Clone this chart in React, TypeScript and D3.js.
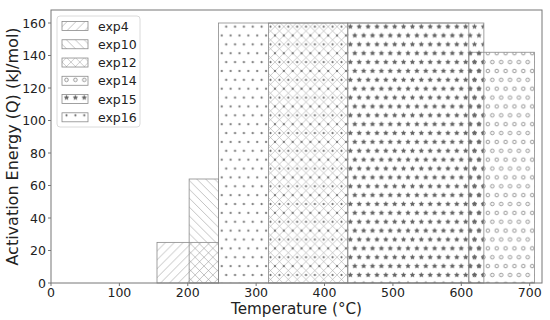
import React from 'react';
import * as d3 from 'd3';

const names = ['exp4', 'exp10', 'exp12', 'exp14', 'exp15', 'exp16'];
const tStart = [155, 202, 318, 611, 434, 245];
const tEnd = [245, 245, 434, 707, 633, 611];
const energy = [25, 64, 160, 142, 160, 160];
const xTicks = [0, 100, 200, 300, 400, 500, 600, 700];
const yTicks = [0, 20, 40, 60, 80, 100, 120, 140, 160];
const xLabel = 'Temperature (°C)';
const yLabel = 'Activation Energy (Q) (kJ/mol)';

const hatchOf: Record<string, string> = {
  exp4: 'slash', exp10: 'back', exp12: 'cross', exp14: 'ring', exp15: 'star', exp16: 'dot',
};

const W = 550, H = 320;
const M = { left: 51, right: 8, top: 10, bottom: 37 };
const D = 8.87;
const LC = '#9a9a9a';
const SC = '#646464';
const FONT = 'DejaVu Sans, sans-serif';

function starPath(cx: number, cy: number, r: number) {
  const pts: string[] = [];
  for (let i = 0; i < 10; i++) {
    const th = (Math.PI * 2 / 10) * i + Math.PI / 2;
    const rr = i % 2 === 0 ? r : r * 0.5;
    pts.push(`${(cx + rr * Math.cos(th)).toFixed(2)},${(cy - rr * Math.sin(th)).toFixed(2)}`);
  }
  return 'M' + pts.join('L') + 'Z';
}

const gridPts: [number, number][] = [[0, 0], [D, 0], [0, 2 * D], [D, 2 * D], [D / 2, D]];

function Patterns() {
  const slash = `M0,${D} L${D},0 M${-D / 2},${D / 2} L${D / 2},${-D / 2} M${D / 2},${1.5 * D} L${1.5 * D},${D / 2}`;
  const back = `M0,0 L${D},${D} M${-D / 2},${D / 2} L${D / 2},${1.5 * D} M${D / 2},${-D / 2} L${1.5 * D},${D / 2}`;
  return (
    <defs>
      <pattern id="h-slash" patternUnits="userSpaceOnUse" width={D} height={D}>
        <path d={slash} stroke={LC} strokeWidth={0.6} fill="none" />
      </pattern>
      <pattern id="h-back" patternUnits="userSpaceOnUse" width={D} height={D}>
        <path d={back} stroke={LC} strokeWidth={0.6} fill="none" />
      </pattern>
      <pattern id="h-cross" patternUnits="userSpaceOnUse" width={D} height={D}>
        <path d={slash + ' ' + back} stroke={LC} strokeWidth={0.5} fill="none" />
      </pattern>
      <pattern id="h-dot" patternUnits="userSpaceOnUse" width={D} height={2 * D}>
        {gridPts.map(([x, y], i) => (
          <circle key={i} cx={x} cy={y} r={0.9} fill={SC} stroke={SC} strokeWidth={0.3} />
        ))}
      </pattern>
      <pattern id="h-ring" patternUnits="userSpaceOnUse" width={D} height={2 * D}>
        {gridPts.map(([x, y], i) => (
          <circle key={i} cx={x} cy={y} r={1.8} fill="none" stroke="#808080" strokeWidth={0.8} />
        ))}
      </pattern>
      <pattern id="h-star" patternUnits="userSpaceOnUse" width={D} height={2 * D}>
        {gridPts.map(([x, y], i) => (
          <path key={i} d={starPath(x, y, 2.7)} fill={SC} stroke={SC} strokeWidth={0.2} />
        ))}
      </pattern>
    </defs>
  );
}

export default function App() {
  const x = d3.scaleLinear().domain([0, 718]).range([M.left, W - M.right]);
  const y = d3.scaleLinear().domain([0, 168]).range([H - M.bottom, M.top]);
  const x0 = x.range()[0], x1 = x.range()[1];
  const y0 = y.range()[0], y1 = y.range()[1];

  const legendX = 57, legendY = 16, legendW = 83, legendH = 111;
  const rowY = (i: number) => 26 + i * 18.26;

  return (
    <svg width={W} height={H} style={{ position: 'absolute', left: 0, top: 0, background: '#fff' }}
      fontFamily={FONT}>
      <Patterns />
      <rect x={0} y={0} width={W} height={H} fill="#fff" />
      {names.map((n, i) => (
        <rect key={n} x={x(tStart[i])} y={y(energy[i])} width={x(tEnd[i]) - x(tStart[i])}
          height={y(0) - y(energy[i])} fill={`url(#h-${hatchOf[n]})`} stroke="#8a8a8a" strokeWidth={0.8} />
      ))}
      <rect x={x0} y={y1} width={x1 - x0} height={y0 - y1} fill="none" stroke="#777" strokeWidth={1} />
      {xTicks.map(t => (
        <g key={t}>
          <line x1={x(t)} x2={x(t)} y1={y0} y2={y0 + 3} stroke="#777" strokeWidth={1} />
          <text x={x(t)} y={y0 + 14} textAnchor="middle" fontSize={12.5} fill="#222">{t}</text>
        </g>
      ))}
      {yTicks.map(t => (
        <g key={t}>
          <line x1={x0 - 3} x2={x0} y1={y(t)} y2={y(t)} stroke="#777" strokeWidth={1} />
          <text x={x0 - 5} y={y(t) + 4.5} textAnchor="end" fontSize={12.5} fill="#222">{t}</text>
        </g>
      ))}
      <text x={(x0 + x1) / 2} y={314} textAnchor="middle" fontSize={15.2} fill="#222">{xLabel}</text>
      <text transform={`translate(18,${(y0 + y1) / 2}) rotate(-90)`} textAnchor="middle" fontSize={16}
        fill="#222">{yLabel}</text>
      <rect x={legendX} y={legendY} width={legendW} height={legendH} rx={3} fill="#fff" fillOpacity={0.8}
        stroke="#d0d0d0" strokeWidth={0.8} />
      {names.map((n, i) => (
        <g key={n}>
          <rect x={62} y={rowY(i) - 4.5} width={26} height={9} fill="#fff" />
          <rect x={62} y={rowY(i) - 4.5} width={26} height={9} fill={`url(#h-${hatchOf[n]})`}
            stroke="#8a8a8a" strokeWidth={0.8} />
          <text x={98} y={rowY(i) + 4.5} fontSize={12.5} fill="#222">{n}</text>
        </g>
      ))}
    </svg>
  );
}
